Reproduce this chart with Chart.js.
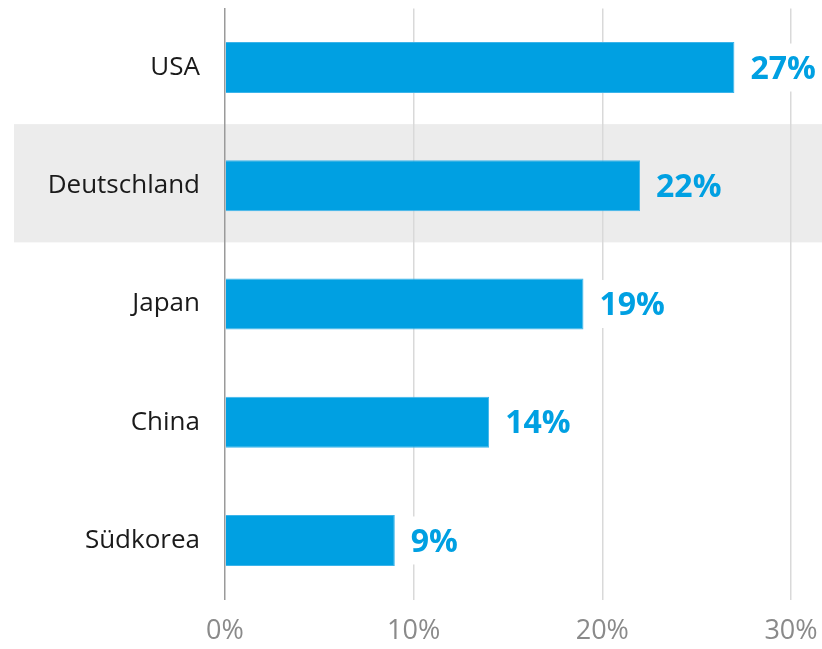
<!DOCTYPE html>
<html>
<head>
<meta charset="utf-8">
<script src="https://cdn.jsdelivr.net/npm/chart.js@4/dist/chart.umd.min.js"></script>
<style>
  html, body { margin: 0; padding: 0; background: #ffffff; }
  #wrap { width: 822px; height: 649px; position: relative; }
</style>
</head>
<body>
<div id="wrap"><canvas id="c" width="822" height="649"></canvas></div>
<script>
const categories = ["USA", "Deutschland", "Japan", "China", "Südkorea"];
const values = [27, 22, 19, 14, 9];
const tickValues = [0, 10, 20, 30];
const highlightedCategory = "Deutschland";

const BAR = "#00a0e2";
const BAR_EDGE = "#3cb4ea";
const BAND = "#ececec";
const FONT = "'Open Sans', 'Noto Sans', sans-serif";

function zeroPad(scale) {
  scale.paddingTop = 0; scale.paddingBottom = 0;
  scale.paddingLeft = 0; scale.paddingRight = 0;
}

const bandPlugin = {
  id: "band",
  beforeDraw(chart) {
    const y = chart.scales.y;
    const idx = categories.indexOf(highlightedCategory);
    if (idx < 0) return;
    const half = (y.getPixelForValue(1) - y.getPixelForValue(0)) / 2;
    const cy = y.getPixelForValue(idx) - 2.5;
    const ctx = chart.ctx;
    ctx.save();
    ctx.fillStyle = BAND;
    ctx.fillRect(14, cy - half, chart.width - 14, half * 2);
    ctx.restore();
  }
};

const labelPlugin = {
  id: "valueLabels",
  afterDatasetsDraw(chart) {
    const ctx = chart.ctx;
    const meta = chart.getDatasetMeta(0);
    ctx.save();
    ctx.font = "bold 32px " + FONT;
    ctx.textBaseline = "middle";
    ctx.textAlign = "left";
    meta.data.forEach((bar, i) => {
      const txt = values[i] + "%";
      const x0 = bar.x + 16;
      const w = ctx.measureText(txt).width;
      ctx.fillStyle = categories[i] === highlightedCategory ? BAND : "#ffffff";
      ctx.fillRect(bar.x + 9, bar.y - 24, w + 14, 48);
      ctx.fillStyle = BAR;
      ctx.fillText(txt, x0, bar.y + 2);
    });
    ctx.restore();
  }
};

new Chart(document.getElementById("c"), {
  type: "bar",
  data: {
    labels: categories,
    datasets: [{
      data: values,
      backgroundColor: BAR,
      borderColor: BAR_EDGE,
      borderWidth: 1,
      borderSkipped: "start",
      categoryPercentage: 1,
      barPercentage: 0.431
    }]
  },
  options: {
    indexAxis: "y",
    responsive: false,
    animation: false,
    events: [],
    layout: { padding: { top: 8.4, right: 31, left: 0, bottom: 0 } },
    plugins: { legend: { display: false }, tooltip: { enabled: false } },
    scales: {
      x: {
        min: 0,
        max: 30,
        afterBuildTicks(scale) { scale.ticks = tickValues.map(v => ({ value: v })); },
        afterFit(scale) { scale.height = 49.4; zeroPad(scale); },
        border: { display: false },
        grid: {
          drawTicks: false,
          color: (c) => c.tick && c.tick.value === 0 ? "rgba(0,0,0,0)" : "#d9d9d9",
          lineWidth: 1.5
        },
        ticks: {
          padding: 16,
          color: "#8a8a8a",
          maxRotation: 0,
          font: { family: FONT, size: 27 },
          callback: (v) => v + "%"
        }
      },
      y: {
        afterFit(scale) { scale.width = 225; zeroPad(scale); },
        border: { display: true, color: "#9a9a9a", width: 1.5 },
        grid: { display: false, drawTicks: false },
        ticks: {
          padding: 25,
          color: "#1a1a1a",
          font: { family: FONT, size: 26 }
        }
      }
    }
  },
  plugins: [bandPlugin, labelPlugin]
});
</script>
</body>
</html>
